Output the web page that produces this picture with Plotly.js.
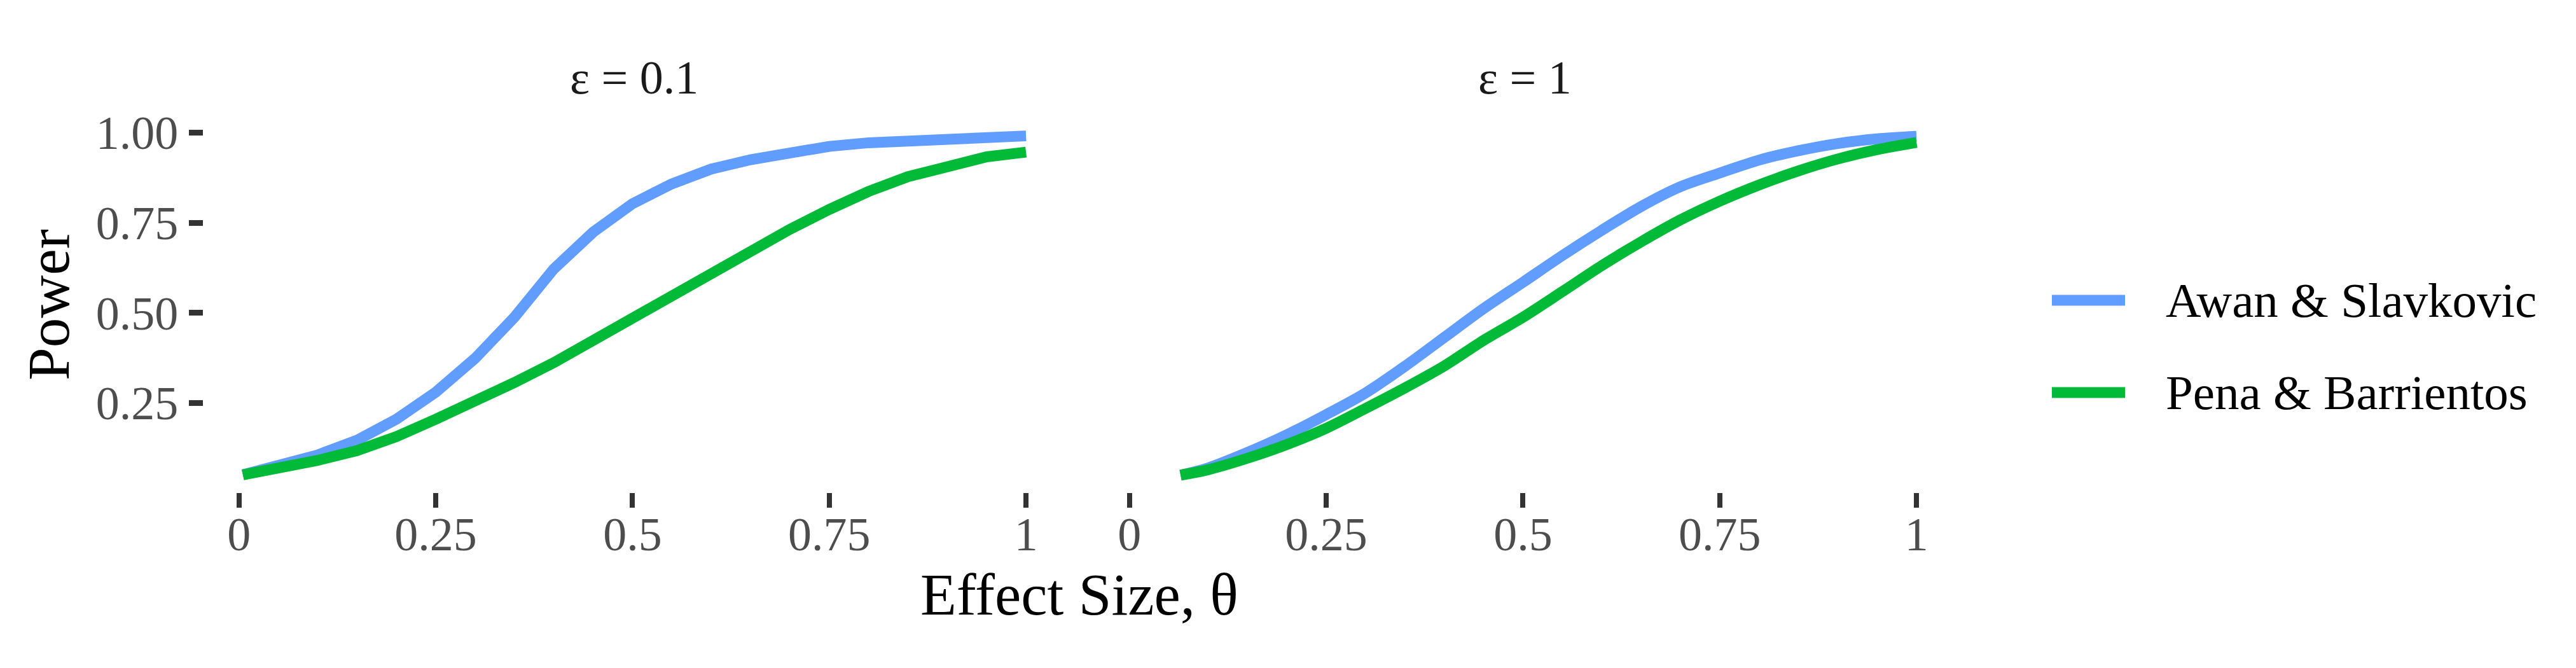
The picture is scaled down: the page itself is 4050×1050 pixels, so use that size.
<!DOCTYPE html>
<html>
<head>
<meta charset="utf-8">
<script src="https://cdn.plot.ly/plotly-3.0.1.min.js"></script>
<style>
  html, body { margin: 0; padding: 0; background: #ffffff; }
  #chart { width: 4050px; height: 1050px; }
</style>
</head>
<body>
<div id="chart"></div>
<script>
// ---- data ----
const panelTitles = ["\u03b5 = 0.1", "\u03b5 = 1"];
const seriesNames = ["Awan & Slavkovic", "Pena & Barrientos"];
const seriesColors = ["#619CFF", "#00BA38"];

// epsilon = 0.1 panel
const theta01 = [0.005, 0.05, 0.10, 0.15, 0.20, 0.25, 0.30, 0.35, 0.40, 0.45, 0.50,
                 0.55, 0.60, 0.65, 0.70, 0.75, 0.80, 0.85, 0.90, 0.95, 1.00];
const awan01  = [0.051, 0.074, 0.106, 0.147, 0.205, 0.280, 0.374, 0.488, 0.622, 0.724, 0.803,
                 0.858, 0.899, 0.925, 0.947, 0.962, 0.972, 0.978, 0.984, 0.988, 0.991];
const pena01  = [0.051, 0.069, 0.091, 0.118, 0.157, 0.205, 0.252, 0.307, 0.362, 0.425, 0.488,
                 0.551, 0.614, 0.673, 0.732, 0.787, 0.837, 0.878, 0.909, 0.933, 0.946];

// epsilon = 1 panel
const theta1 = [0.065, 0.10, 0.15, 0.20, 0.25, 0.30, 0.35, 0.40, 0.45, 0.50,
                0.55, 0.60, 0.65, 0.70, 0.75, 0.80, 0.85, 0.90, 0.95, 1.00];
const awan1  = [0.050, 0.070, 0.113, 0.162, 0.218, 0.278, 0.352, 0.432, 0.512, 0.585,
                0.659, 0.729, 0.795, 0.850, 0.888, 0.924, 0.950, 0.970, 0.983, 0.990];
const pena1  = [0.050, 0.065, 0.097, 0.135, 0.180, 0.235, 0.292, 0.353, 0.424, 0.488,
                0.559, 0.631, 0.697, 0.758, 0.810, 0.855, 0.894, 0.927, 0.953, 0.973];

const xTickVals = [0, 0.25, 0.5, 0.75, 1];
const xTickText = ["0", "0.25", "0.5", "0.75", "1"];
const yTickVals = [0.25, 0.5, 0.75, 1.0];
const yTickText = ["0.25", "0.50", "0.75", "1.00"];

// ---- styling ----
const W = 4050, H = 1050;
const FONT = "Liberation Serif, Times New Roman, serif";
const LW = 17;
const px = v => v / W;
const py = v => (H - v) / H;

const traces = [
  {x: theta01, y: awan01, xaxis: "x",  yaxis: "y", name: seriesNames[0], shape: "linear"},
  {x: theta01, y: pena01, xaxis: "x",  yaxis: "y", name: seriesNames[1], shape: "linear"},
  {x: theta1,  y: awan1,  xaxis: "x2", yaxis: "y", name: seriesNames[0], shape: "spline"},
  {x: theta1,  y: pena1,  xaxis: "x2", yaxis: "y", name: seriesNames[1], shape: "spline"}
].map((t, i) => {
  const shape = t.shape; delete t.shape;
  return Object.assign(t, {
    type: "scatter", mode: "lines", showlegend: false, hoverinfo: "skip",
    line: {color: seriesColors[i % 2], width: LW, shape: shape, smoothing: 0.8}
  });
});

const xAxisCommon = {
  range: [-0.045, 1.05], tickmode: "array", tickvals: xTickVals, ticktext: xTickText,
  ticks: "outside", ticklen: 23, tickwidth: 8, tickcolor: "#333333",
  showgrid: false, zeroline: false, showline: false,
  tickfont: {family: FONT, size: 74, color: "#4d4d4d"}, ticklabelstandoff: -21,
  fixedrange: true
};

const layout = {
  width: W, height: H,
  margin: {l: 0, r: 0, t: 0, b: 0},
  paper_bgcolor: "#ffffff", plot_bgcolor: "#ffffff",
  showlegend: false,
  font: {family: FONT, color: "#000000"},
  xaxis: Object.assign({}, xAxisCommon, {domain: [px(320), px(1675)], anchor: "y"}),
  xaxis2: Object.assign({}, xAxisCommon, {domain: [px(1720), px(3075)], anchor: "y"}),
  yaxis: {
    domain: [py(773.5), py(187)], range: [0.003, 1.038],
    tickmode: "array", tickvals: yTickVals, ticktext: yTickText,
    ticks: "outside", ticklen: 22, tickwidth: 9, tickcolor: "#333333",
    showgrid: false, zeroline: false, showline: false,
    tickfont: {family: FONT, size: 74, color: "#4d4d4d"}, ticklabelstandoff: 2,
    anchor: "x", fixedrange: true
  },
  annotations: [
    {text: panelTitles[0], xref: "paper", yref: "paper", x: px(997), y: py(122),
     xanchor: "center", yanchor: "middle", showarrow: false,
     font: {family: FONT, size: 74, color: "#1a1a1a"}},
    {text: panelTitles[1], xref: "paper", yref: "paper", x: px(2397), y: py(122),
     xanchor: "center", yanchor: "middle", showarrow: false,
     font: {family: FONT, size: 74, color: "#1a1a1a"}},
    {text: "Effect Size, \u03b8", xref: "paper", yref: "paper", x: px(1697), y: py(935),
     xanchor: "center", yanchor: "middle", showarrow: false,
     font: {family: FONT, size: 93, color: "#000000"}},
    {text: "Power", xref: "paper", yref: "paper", x: px(77), y: py(479),
     xanchor: "center", yanchor: "middle", textangle: -90, showarrow: false,
     font: {family: FONT, size: 93, color: "#000000"}},
    {text: seriesNames[0], xref: "paper", yref: "paper", x: px(3403), y: py(472),
     xanchor: "left", yanchor: "middle", showarrow: false,
     font: {family: FONT, size: 77, color: "#000000"}},
    {text: seriesNames[1], xref: "paper", yref: "paper", x: px(3403), y: py(617),
     xanchor: "left", yanchor: "middle", showarrow: false,
     font: {family: FONT, size: 77, color: "#000000"}}
  ],
  shapes: [
    {type: "line", xref: "paper", yref: "paper", x0: px(3226), x1: px(3341), y0: py(472), y1: py(472),
     line: {color: seriesColors[0], width: LW}},
    {type: "line", xref: "paper", yref: "paper", x0: px(3226), x1: px(3341), y0: py(617), y1: py(617),
     line: {color: seriesColors[1], width: LW}}
  ]
};

Plotly.newPlot("chart", traces, layout, {staticPlot: true, displayModeBar: false});
</script>
</body>
</html>
